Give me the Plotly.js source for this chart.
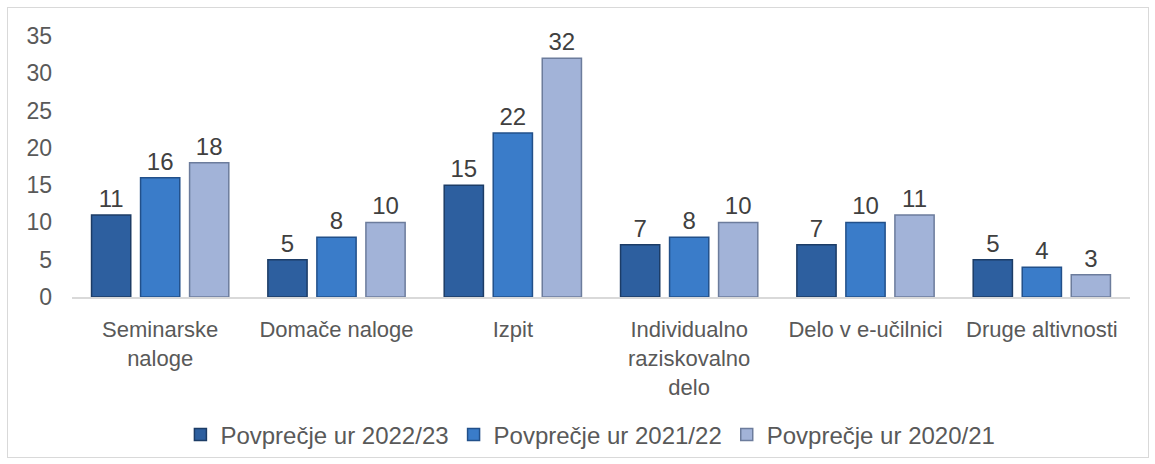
<!DOCTYPE html>
<html><head><meta charset="utf-8">
<script src="https://cdn.plot.ly/plotly-3.0.1.min.js"></script>
<style>
html,body{margin:0;padding:0;background:#fff;}
#wrap{position:relative;width:1155px;height:464px;}
#chart{width:1155px;height:464px;}
#frame{position:absolute;left:7px;top:7px;width:1140px;height:449px;border:1px solid #d9d9d9;pointer-events:none;}
</style>
</head><body>
<div id="wrap"><div id="chart"></div><div id="frame"></div></div>
<script>
const categories = ["Seminarske<br>naloge", "Domače naloge", "Izpit", "Individualno<br>raziskovalno<br>delo", "Delo v e-učilnici", "Druge altivnosti"];
const seriesNames = ["Povprečje ur 2022/23", "Povprečje ur 2021/22", "Povprečje ur 2020/21"];
const values2022 = [11, 5, 15, 7, 7, 5];
const values2021 = [16, 8, 22, 8, 10, 4];
const values2020 = [18, 10, 32, 10, 11, 3];
const yTicks = [0, 5, 10, 15, 20, 25, 30, 35];

const fills = ["#2d5f9f", "#3a7cc9", "#a2b3d8"];
const edges = ["#1c3c66", "#22508a", "#6c7c9c"];
const allValues = [values2022, values2021, values2020];

const font = "Liberation Sans, Arial, sans-serif";
const traces = allValues.map((v, i) => ({
  type: "bar",
  name: seriesNames[i],
  x: categories,
  y: v,
  text: v.map(String),
  textposition: "outside",
  cliponaxis: false,
  textfont: {family: font, size: 24, color: "#404040"},
  marker: {color: fills[i], line: {color: edges[i], width: 1.5}},
  hoverinfo: "none"
}));

const layout = {
  width: 1155, height: 464,
  margin: {l: 72, r: 25, t: 36, b: 167},
  paper_bgcolor: "#fff", plot_bgcolor: "#fff",
  font: {family: font, size: 23, color: "#595959"},
  barmode: "group",
  bargap: 0.166,
  bargroupgap: 0.2,
  showlegend: true,
  legend: {orientation: "h", x: 0.49, xanchor: "center", yref: "container", y: 0.0625, yanchor: "middle",
           font: {family: font, size: 24, color: "#595959"}, traceorder: "normal", itemwidth: 30},
  xaxis: {showline: true, linecolor: "#d9d9d9", linewidth: 2, showgrid: false, zeroline: false,
          ticks: "", tickfont: {family: font, size: 22, color: "#595959"}, ticklabelstandoff: 12},
  yaxis: {range: [0, 35], tickvals: yTicks, showgrid: false, zeroline: false, showline: false,
          ticks: "", tickfont: {family: font, size: 23, color: "#595959"}, ticklabelstandoff: 19}
};
Plotly.newPlot("chart", traces, layout, {staticPlot: true});
</script>
</body></html>
